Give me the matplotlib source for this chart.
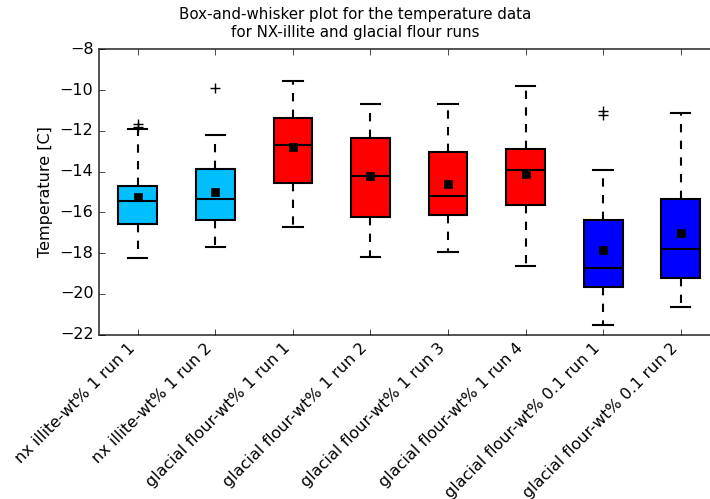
import matplotlib
matplotlib.use("Agg")
import matplotlib.pyplot as plt

plt.style.use('classic')

labels = ["nx illite-wt% 1 run 1", "nx illite-wt% 1 run 2",
          "glacial flour-wt% 1 run 1", "glacial flour-wt% 1 run 2",
          "glacial flour-wt% 1 run 3", "glacial flour-wt% 1 run 4",
          "glacial flour-wt% 0.1 run 1", "glacial flour-wt% 0.1 run 2"]
q1 = [-16.57, -16.39, -14.54, -16.24, -16.13, -15.62, -19.64, -19.22]
med = [-15.44, -15.34, -12.69, -14.21, -15.19, -13.92, -18.74, -17.79]
q3 = [-14.70, -13.87, -11.39, -12.37, -13.04, -12.89, -16.37, -15.36]
whislo = [-18.22, -17.71, -16.72, -18.17, -17.94, -18.64, -21.52, -20.62]
whishi = [-11.92, -12.22, -9.57, -10.70, -10.70, -9.82, -13.92, -11.12]
means = [-15.23, -15.00, -12.79, -14.20, -14.62, -14.10, -17.84, -16.99]
fliers = [[-11.65, -11.8], [-9.91], [], [], [], [], [-11.05, -11.2], []]
colors = ["#00BFFF", "#00BFFF", "red", "red", "red", "red", "blue", "blue"]

stats = []
for i in range(len(labels)):
    stats.append(dict(label=labels[i], q1=q1[i], med=med[i], q3=q3[i],
                      whislo=whislo[i], whishi=whishi[i], mean=means[i],
                      fliers=fliers[i]))

fig = plt.figure(figsize=(7.1, 4.99), dpi=100, facecolor='white')
ax = fig.add_axes([99/710, 164.3/499, 620.5/710, 285.4/499])

bp = ax.bxp(stats, patch_artist=True, showmeans=True, widths=0.5,
            boxprops=dict(edgecolor='black', linewidth=1.5),
            whiskerprops=dict(color='black', linestyle='--', linewidth=1.5),
            capprops=dict(color='black', linewidth=1.5),
            medianprops=dict(color='black', linewidth=1.5),
            meanprops=dict(marker='s', markerfacecolor='black',
                           markeredgecolor='black', markersize=6),
            flierprops=dict(marker='+', markeredgecolor='black',
                            markersize=7))
for patch, c in zip(bp['boxes'], colors):
    patch.set_facecolor(c)

ax.set_ylim(-22, -8)
ax.set_xlim(0.5, len(labels) + 0.5)
ax.set_ylabel("Temperature [C]", fontsize=11.5)
ax.tick_params(axis='both', labelsize=11.5)
ax.tick_params(axis='y', right=False)
ax.set_xticklabels(labels, rotation=45, ha='right')
for sp in ax.spines.values():
    sp.set_color('#444444')
    sp.set_linewidth(1.3)
ax.spines['right'].set_visible(False)

fig.text(0.5, 0.985, "Box-and-whisker plot for the temperature data\n"
         "for NX-illite and glacial flour runs",
         ha='center', va='top', fontsize=10.8)

fig.savefig("out.png", dpi=100, facecolor='white')
